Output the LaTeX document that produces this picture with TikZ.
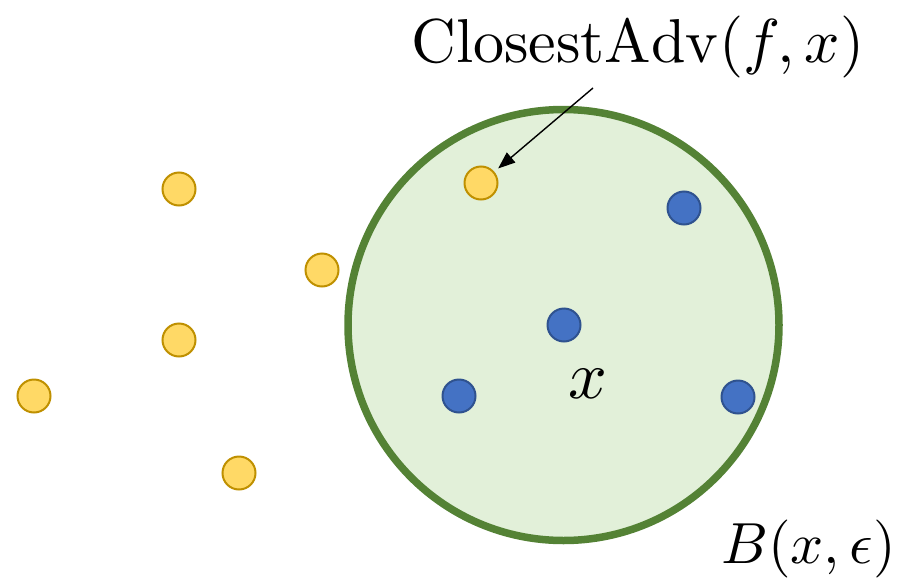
\documentclass[tikz,border=0pt]{standalone}
\usetikzlibrary{arrows.meta}
\definecolor{ballfill}{HTML}{E2F0D9}
\definecolor{balldraw}{HTML}{548235}
\definecolor{yfill}{HTML}{FFD966}
\definecolor{ydraw}{HTML}{BF9000}
\definecolor{bfill}{HTML}{4472C4}
\definecolor{bdraw}{HTML}{2F528F}
\begin{document}
\begin{tikzpicture}[x=1pt,y=-1pt,
  ydot/.style={circle,minimum size=33pt,inner sep=0pt,fill=yfill,draw=ydraw,line width=2pt},
  bdot/.style={circle,minimum size=33pt,inner sep=0pt,fill=bfill,draw=bdraw,line width=2pt},
  ball/.style={circle,minimum size=431pt,inner sep=0pt,fill=ballfill,draw=balldraw,line width=7.5pt},
  lbl/.style={inner sep=0pt}]
\useasboundingbox (0,0) rectangle (913,581);
\node[ball] (ball) at (563.5,325) {};
\node[bdot] (b1) at (564,325) {};
\node[bdot] (b2) at (684,208) {};
\node[bdot] (b3) at (459,396) {};
\node[bdot] (b4) at (738,397) {};
\node[ydot] (cadv) at (481,183) {};
\node[ydot] (y1) at (179,189) {};
\node[ydot] (y2) at (322,270) {};
\node[ydot] (y3) at (179,340) {};
\node[ydot] (y4) at (34,396) {};
\node[ydot] (y5) at (239,473) {};
\node[lbl,anchor=base west,scale=6.2] (title) at (410,62) {$\mathrm{ClosestAdv}(f,x)$};
\node[lbl,anchor=base,scale=6.8] (xl) at (588,398) {$x$};
\node[lbl,anchor=base west,scale=5.8] (bl) at (720,563) {$B(x,\epsilon)$};
\coordinate (astart) at (593,88);
\draw[line width=1.4pt,-{Triangle[length=17pt,width=13pt]},shorten >=5pt] (astart) -- (cadv);
\end{tikzpicture}
\end{document}
